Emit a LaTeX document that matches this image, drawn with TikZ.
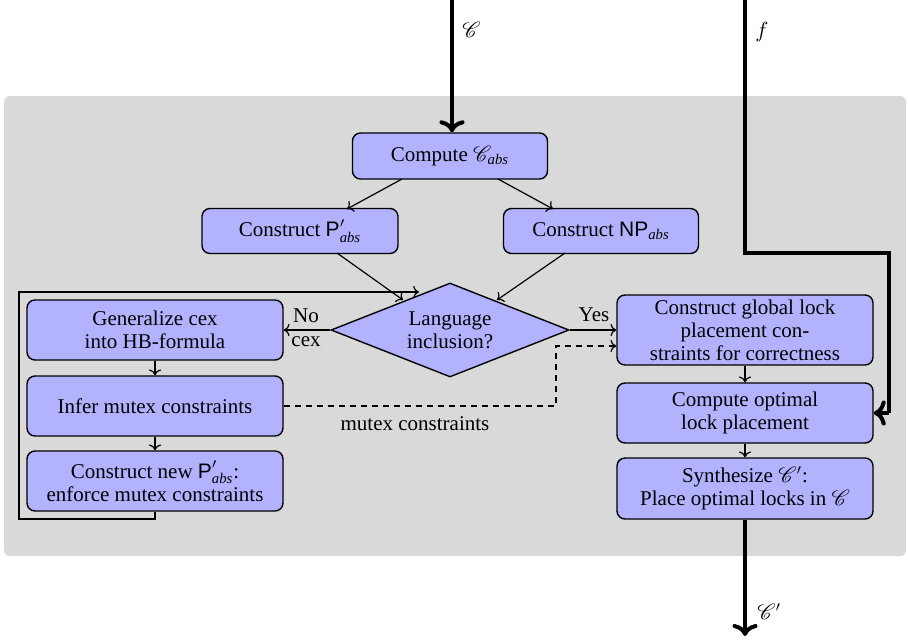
\documentclass[tikz,border=0pt]{standalone}
\usepackage{amsmath}
\usepackage{mathrsfs}
\usepackage{fontspec}
\setmainfont{Liberation Serif}
\setsansfont{Liberation Sans}
\usetikzlibrary{shapes.geometric,arrows.meta}
\newcommand{\scrC}{\mathscr{C}}
\newcommand{\abssub}{_{\textit{abs}}}
\tikzset{
  stage/.style={draw, line width=0.7pt, fill=blue!30, rounded corners=4pt,
    align=center, inner sep=1pt, font=\rmfamily\fontsize{10.5}{11.5}\selectfont},
  decision/.style={draw, line width=0.7pt, fill=blue!30, diamond, aspect=2.5,
    inner sep=0pt, align=center, font=\rmfamily\fontsize{10.5}{11.5}\selectfont},
  flow/.style={->, line width=0.6pt},
  mainflow/.style={->, line width=2pt},
  txt/.style={font=\rmfamily\fontsize{10.5}{11.5}\selectfont, inner sep=1pt},
}
\begin{document}
\begin{tikzpicture}[x=0.5pt,y=-0.5pt]
\useasboundingbox (0,0) rectangle (908,642);
% shaded region of the tool
\fill[black!15, rounded corners=3pt] (4,96) rectangle (906,556);

% abstraction stage
\node[stage, minimum width=97.5pt, minimum height=23pt] (cabs) at (450,156) {Compute $\scrC\abssub$};
\node[stage, minimum width=98pt, minimum height=22.5pt] (pabs) at (300,231) {Construct $\textsf{P}'\abssub$};
\node[stage, minimum width=97.5pt, minimum height=22.5pt] (npabs) at (601,231) {Construct $\textsf{NP}\abssub$};
\node[decision, minimum width=119pt, minimum height=47pt] (lang) at (450,330) {Language\\inclusion?};

% refinement loop
\node[stage, minimum width=128pt, minimum height=30pt] (gen) at (155,330) {Generalize cex\\into HB-formula};
\node[stage, minimum width=128pt, minimum height=30pt] (infer) at (155,406) {Infer mutex constraints};
\node[stage, minimum width=128pt, minimum height=30pt] (newp) at (155,481) {Construct new $\textsf{P}'\abssub$:\\enforce mutex constraints};

% synthesis stage
\node[stage, minimum width=128pt, minimum height=35pt] (glob) at (745,330) {Construct global lock\\placement con-\\straints for correctness};
\node[stage, minimum width=128pt, minimum height=30pt] (opt) at (745,413) {Compute optimal\\lock placement};
\node[stage, minimum width=128pt, minimum height=30.5pt] (synth) at (745,488.5) {Synthesize $\scrC'$:\\Place optimal locks in $\scrC$};

% inputs and output
\coordinate (cin) at (452,0);
\coordinate (fin) at (745,0);
\coordinate (fbend1) at (745,253);
\coordinate (fbend2) at (889,253);
\coordinate (fend) at (889,413);
\coordinate (cout) at (745,636);
\draw[mainflow] (cin) -- (cabs.north -| cin);
\node[txt, anchor=west] at (460,30) {$\scrC$};
\draw[line width=2pt, line join=miter] (fin) -- (fbend1) -- (fbend2) -- (fend);
\draw[mainflow] (fend) -- (opt.east);
\node[txt, anchor=west] at (753,32) {$f$};
\draw[mainflow] (synth.south) -- (cout);
\node[txt, anchor=west] at (755,612) {$\scrC'$};

% abstraction arrows
\draw[flow] (402,179) -- (347,209);
\draw[flow] (498,179) -- (553,209);
\draw[flow] (337,253) -- (403,300);
\draw[flow] (565,253) -- (497,300);

% decision outcomes
\draw[flow] (lang.west) -- (gen.east);
\node[txt] at (306,316) {No};
\node[txt] at (306,342) {cex};
\draw[flow] (lang.east) -- (glob.west |- lang.east);
\node[txt] at (594,315) {Yes};

% refinement chain
\draw[flow] (gen.south) -- (infer.north);
\draw[flow] (infer.south) -- (newp.north);
\coordinate (loopa) at (155,519);
\coordinate (loopb) at (19,519);
\coordinate (loopc) at (19,292);
\coordinate (loopd) at (419,292);
\draw[flow, line join=miter] (newp.south) -- (loopa) -- (loopb) -- (loopc) -- (loopd);

% mutex constraints hand-over
\coordinate (mca) at (556,406);
\coordinate (mcb) at (556,346);
\draw[flow, dashed, dash pattern=on 3pt off 2.5pt] (infer.east) -- (mca) -- (mcb) -- (glob.west |- mcb);
\node[txt] at (415,424) {mutex constraints};

% synthesis chain
\draw[flow] (glob.south) -- (opt.north);
\draw[flow] (opt.south) -- (synth.north);
\end{tikzpicture}
\end{document}
